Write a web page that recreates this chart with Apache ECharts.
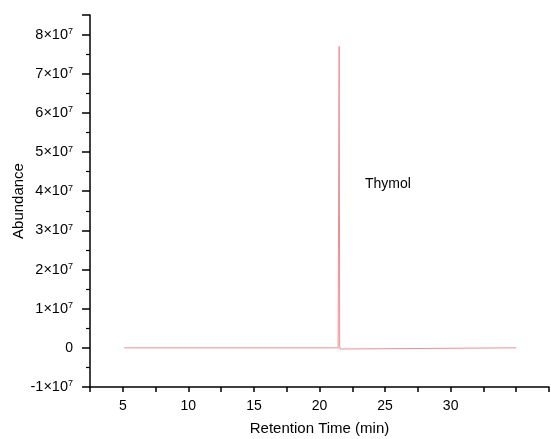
<!DOCTYPE html>
<html><head><meta charset="utf-8">
<script src="https://cdn.jsdelivr.net/npm/echarts@6/dist/echarts.min.js"></script>
<style>html,body{margin:0;padding:0;background:#fff}#c{width:551px;height:439px}</style>
</head><body><div id="c"></div>
<script>
const retentionTime = [5.1, 21.42, 21.46, 21.48, 21.5, 21.52, 21.54, 21.57, 21.62, 35.0];
const abundance =     [0,   0,     3e5,   6.3e7, 7.7e7, 4e7,  5e5,  -3e5,  0,     0];
const peakLabel = 'Thymol';
const xTicks = [5, 10, 15, 20, 25, 30];
const yMin = -1e7, yMax = 8.5e7, yStep = 1e7;
const xMin = 2.5, xMax = 37.5, xStep = 2.5;

function yFmt(v){
  if (Math.abs(v) < 1) return '0';
  const e = Math.floor(Math.log10(Math.abs(v)) + 1e-9);
  const m = Math.round(v / Math.pow(10, e));
  return '{n|' + m + '×10}{s|' + e + '}';
}
const chart = echarts.init(document.getElementById('c'));
const font = 'Liberation Sans, Arial, sans-serif';
chart.setOption({
  animation: false,
  grid: {left: 90, right: 2, top: 15, bottom: 52, containLabel: false, outerBoundsMode: 'none'},
  xAxis: {
    type: 'value', min: xMin, max: xMax, interval: xStep,
    name: 'Retention Time (min)', nameLocation: 'middle', nameGap: 34,
    nameTextStyle: {fontFamily: font, fontSize: 15, color: '#000'},
    axisLine: {onZero: false, lineStyle: {color: '#000', width: 1.5}},
    axisTick: {lineStyle: {color: '#000', width: 1.5}, length: 5},
    splitLine: {show: false},
    axisLabel: {fontFamily: font, fontSize: 14, color: '#000', margin: 12,
      formatter: v => xTicks.some(t => Math.abs(t - v) < 1e-6) ? String(v) : ''}
  },
  yAxis: {
    type: 'value', min: yMin, max: yMax, interval: yStep,
    name: 'Abundance', nameLocation: 'middle', nameGap: 64, nameMoveOverlap: false,
    nameTextStyle: {fontFamily: font, fontSize: 15, color: '#000'},
    axisLine: {show: true, onZero: false, lineStyle: {color: '#000', width: 1.5}},
    axisTick: {show: true, lineStyle: {color: '#000', width: 1.5}, length: 8},
    minorTick: {show: true, splitNumber: 2, length: 4, lineStyle: {color: '#000', width: 1.2}},
    splitLine: {show: false},
    axisLabel: {showMaxLabel: false, color: '#000', margin: 17, formatter: yFmt,
      fontFamily: font, fontSize: 14,
      rich: {n: {fontFamily: font, fontSize: 14.5, color: '#000'},
             s: {fontFamily: font, fontSize: 9, color: '#000', verticalAlign: 'top', padding: [0,0,6,0]}}}
  },
  series: [{
    type: 'line', showSymbol: false, symbol: 'none', sampling: null,
    data: retentionTime.map((t, i) => [t, abundance[i]]),
    lineStyle: {color: '#ec8f8f', width: 1}
  }],
  graphic: [{type: 'text', left: 365, top: 177,
    style: {text: peakLabel, font: '14px Liberation Sans, Arial, sans-serif', fill: '#000'}}]
});
</script></body></html>
